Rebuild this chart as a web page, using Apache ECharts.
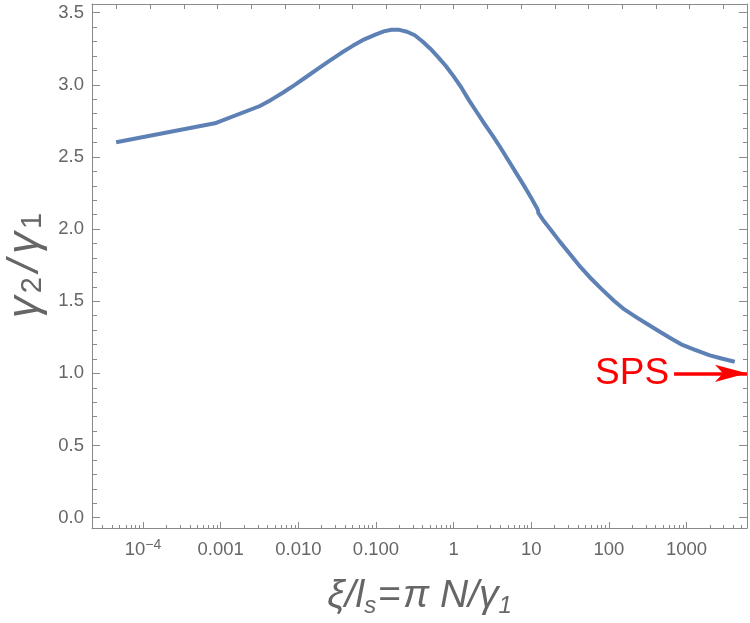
<!DOCTYPE html>
<html>
<head>
<meta charset="utf-8">
<script src="https://cdn.jsdelivr.net/npm/echarts@6/dist/echarts.min.js"></script>
<style>
  html, body { margin: 0; padding: 0; background: #fff; }
  #chart { width: 750px; height: 623px; }
</style>
</head>
<body>
<div id="chart"></div>
<script>
// curve: x = xi / l_s, y = gamma2 / gamma1
const xValues = [4.5e-5, 8.4e-4, 3.2e-3, 0.0045, 0.0063, 0.0089, 0.0126, 0.0178, 0.0251,
  0.0355, 0.0501, 0.0708, 0.1, 0.126, 0.158, 0.2, 0.251, 0.316, 0.398, 0.501, 0.631, 0.794,
  1, 1.26, 1.58, 2.0, 2.51, 3.16, 3.98, 5.01, 6.31, 7.94, 10, 11.7, 12.2, 12.3, 14.1, 17.8,
  23.3, 31.6, 43.2, 56.2, 79.4, 116, 158, 224, 315, 447, 631, 851, 1259, 1995, 2818, 4170];
const yValues = [2.602, 2.733, 2.853, 2.897, 2.945, 2.998, 3.054, 3.111, 3.166,
  3.220, 3.270, 3.315, 3.350, 3.370, 3.381, 3.381, 3.368, 3.343, 3.300, 3.250, 3.192, 3.130,
  3.058, 2.980, 2.892, 2.808, 2.728, 2.650, 2.567, 2.480, 2.393, 2.306, 2.215, 2.150, 2.130, 2.112, 2.065, 1.995,
  1.913, 1.825, 1.736, 1.668, 1.587, 1.503, 1.443, 1.390, 1.340, 1.290, 1.242, 1.201, 1.165, 1.125, 1.103, 1.080];

const xTickValues = [1e-4, 0.001, 0.01, 0.1, 1, 10, 100, 1000];
const xTickLabels = ['{b|10}{sup|−4}', '{b|0.001}', '{b|0.010}', '{b|0.100}', '{b|1}', '{b|10}', '{b|100}', '{b|1000}'];
const yTickValues = [0, 0.5, 1, 1.5, 2, 2.5, 3, 3.5];
const yTickLabels = ['0.0', '0.5', '1.0', '1.5', '2.0', '2.5', '3.0', '3.5'];

const spsLabel = 'SPS';
const spsY = 1.0;
const spsArrowFrom = 690;

const X_MIN = 2.2e-5, X_MAX = 6000;
const Y_MIN = -0.072, Y_MAX = 3.56;

const FRAME = '#8a8a8a';
const TEXT = '#666';
const FONT = 'Liberation Sans';

const LMIN = Math.log10(X_MIN), LMAX = Math.log10(X_MAX);

// tick positions (in log10 space for the decoration axes)
const xMajor = xTickValues.map(v => Math.log10(v));
const xMinor = [];
for (let n = -5; n <= 3; n++) {
  for (let k = 2; k <= 9; k++) {
    const l = n + Math.log10(k);
    if (l > LMIN && l < LMAX) xMinor.push(l);
  }
}
const xTop = [];
for (let k = -10; k <= 8; k++) xTop.push(k * Math.LOG10E);
const yMinor = [];
for (let i = 1; i < 35; i++) if (i % 5 !== 0) yMinor.push(i / 10);

function tickAxis(extra) {
  return Object.assign({
    type: 'value', min: LMIN, max: LMAX,
    splitLine: { show: false },
    axisLine: { show: false, onZero: false },
    axisLabel: { show: false },
    axisTick: { show: false }
  }, extra);
}
function yTickAxis(extra) {
  return Object.assign({
    type: 'value', min: Y_MIN, max: Y_MAX,
    splitLine: { show: false },
    axisLine: { show: false, onZero: false },
    axisLabel: { show: false },
    axisTick: { show: false }
  }, extra);
}
const frameLine = { show: true, onZero: false, lineStyle: { color: FRAME, width: 1 } };

const chart = echarts.init(document.getElementById('chart'));

chart.setOption({
  animation: false,
  textStyle: { fontFamily: FONT },
  grid: { left: 92, right: 3, top: 4, bottom: 95, outerBoundsMode: 'none' },
  xAxis: [
    // the data axis
    {
      type: 'log', min: X_MIN, max: X_MAX, position: 'bottom',
      splitLine: { show: false }, axisLine: { show: false, onZero: false },
      axisLabel: { show: false }, axisTick: { show: false }
    },
    tickAxis({
      position: 'bottom',
      axisLine: frameLine,
      axisTick: { show: true, inside: true, length: 6, customValues: xMajor, lineStyle: { color: FRAME } },
      axisLabel: {
        show: true, customValues: xMajor, margin: 10, color: TEXT,
        formatter: v => {
          const i = xMajor.findIndex(m => Math.abs(m - v) < 1e-6);
          return i >= 0 ? xTickLabels[i] : '';
        },
        rich: {
          b: { fontSize: 18.5, lineHeight: 24, color: TEXT, fontFamily: FONT },
          sup: { fontSize: 14, lineHeight: 10, verticalAlign: 'top', color: TEXT, fontFamily: FONT }
        }
      },
      name: '{i|ξ/l}{s|s}{e|=}{i|π}{i| N/γ}{s|1}',
      nameLocation: 'middle', nameGap: 46,
      nameTextStyle: {
        rich: {
          i: { fontSize: 39, fontStyle: 'italic', color: TEXT, fontFamily: FONT, lineHeight: 44 },
          e: { fontSize: 39, color: TEXT, fontFamily: FONT, lineHeight: 44, padding: [0, 2, 0, 2] },
          s: { fontSize: 24, fontStyle: 'italic', color: TEXT, fontFamily: FONT, lineHeight: 26, verticalAlign: 'bottom' }
        }
      }
    }),
    tickAxis({
      position: 'bottom',
      axisTick: { show: true, inside: true, length: 3, customValues: xMinor, lineStyle: { color: FRAME } }
    }),
    tickAxis({
      position: 'top',
      axisLine: frameLine,
      axisTick: { show: true, inside: true, length: 5, customValues: xTop, lineStyle: { color: FRAME } }
    })
  ],
  yAxis: [
    yTickAxis({
      position: 'left',
      axisLine: frameLine,
      axisTick: { show: true, inside: true, length: 8, customValues: yTickValues, lineStyle: { color: FRAME } },
      axisLabel: {
        show: true, customValues: yTickValues, margin: 8, color: TEXT, fontSize: 18.5,
        formatter: v => {
          const i = yTickValues.findIndex(m => Math.abs(m - v) < 1e-6);
          return i >= 0 ? yTickLabels[i] : '';
        }
      },
      name: '{g|γ}{s|2}{g|/}{g|γ}{s|1}',
      nameLocation: 'middle', nameGap: 38, nameRotate: 90,
      nameTextStyle: {
        rich: {
          g: { fontSize: 44, fontStyle: 'italic', color: TEXT, fontFamily: FONT, lineHeight: 44, padding: [0, 3, 0, 3] },
          s: { fontSize: 29, color: TEXT, fontFamily: FONT, lineHeight: 29, verticalAlign: 'bottom', padding: [0, 2, 0, 0] }
        }
      }
    }),
    yTickAxis({
      position: 'left',
      axisTick: { show: true, inside: true, length: 5, customValues: yMinor, lineStyle: { color: FRAME } }
    }),
    yTickAxis({
      position: 'right',
      axisLine: frameLine,
      axisTick: { show: true, inside: true, length: 8, customValues: yTickValues, lineStyle: { color: FRAME } }
    }),
    yTickAxis({
      position: 'right',
      axisTick: { show: true, inside: true, length: 4, customValues: yMinor, lineStyle: { color: FRAME } }
    })
  ],
  series: [
    {
      type: 'line',
      xAxisIndex: 0,
      yAxisIndex: 0,
      data: xValues.map((x, i) => [x, yValues[i]]),
      showSymbol: false,
      symbol: 'none',
      lineStyle: { color: '#5e81b5', width: 4, join: 'round', cap: 'butt' },
      markLine: {
        silent: true,
        symbol: ['none', 'arrow'],
        symbolSize: [13, 32],
        lineStyle: { color: '#ff0000', width: 3.5, type: 'solid' },
        label: {
          show: true, position: 'start', distance: 5,
          formatter: spsLabel, color: '#ff0000', fontSize: 37, fontFamily: FONT
        },
        data: [[{ coord: [spsArrowFrom, spsY] }, { coord: [X_MAX, spsY] }]]
      }
    }
  ]
});
</script>
</body>
</html>
